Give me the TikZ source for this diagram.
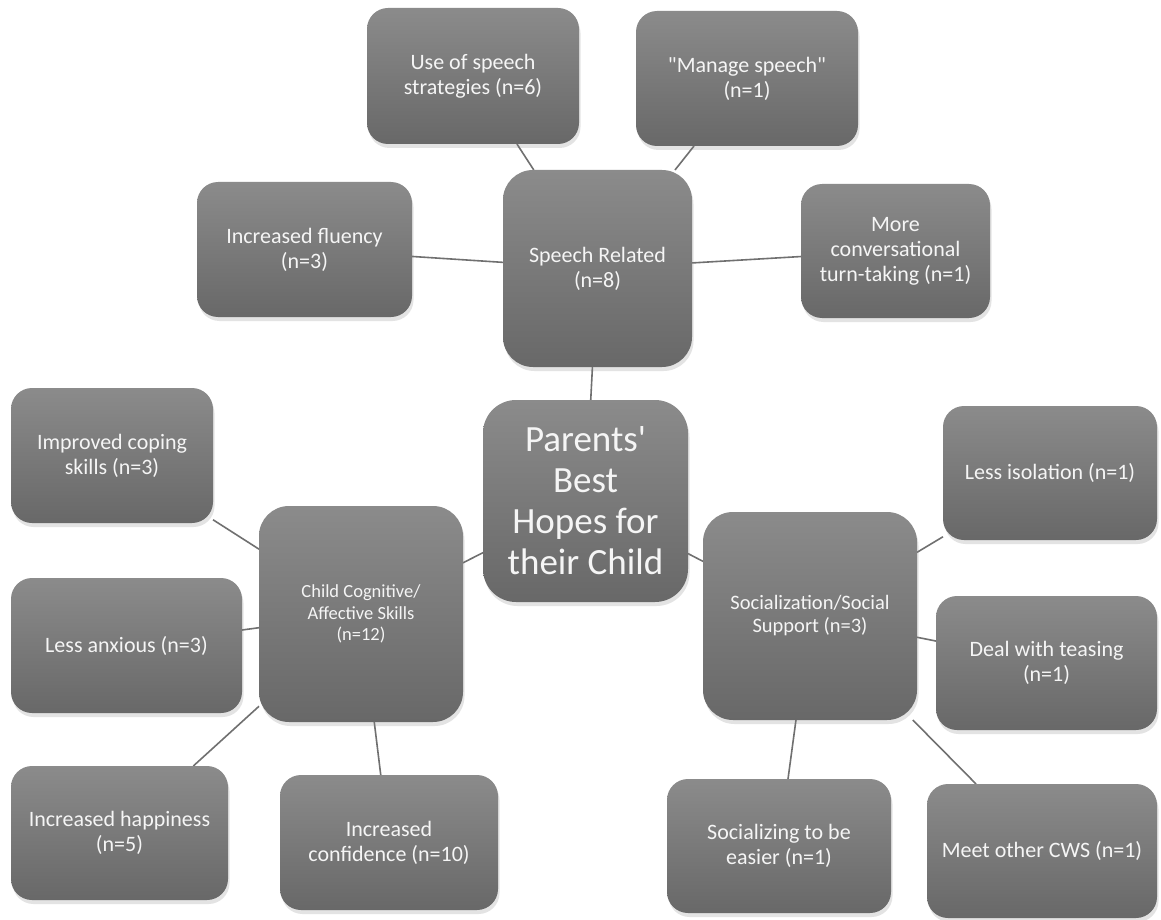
\documentclass[tikz,border=0pt]{standalone}
\usepackage{fontspec}
\setmainfont{Carlito}[Ligatures=TeXOff]
\usetikzlibrary{shadows,backgrounds}
\definecolor{boxtop}{RGB}{139,139,139}
\definecolor{boxbot}{RGB}{104,104,104}
\definecolor{linkc}{RGB}{112,112,112}
\definecolor{txt}{RGB}{245,245,245}
\tikzset{
  box/.style={rectangle, rounded corners=21pt, top color=boxtop, bottom color=boxbot,
    draw=none, outer sep=0pt, inner sep=2pt, align=center, text=txt,
    font=\fontsize{22}{25}\selectfont,
    drop shadow={opacity=0.22, shadow xshift=1.5pt, shadow yshift=-4pt}},
  bigbox/.style={box, rounded corners=30pt},
  link/.style={draw=linkc, line width=1.6pt}
}
\begin{document}
\begin{tikzpicture}[x=1pt,y=-1pt]
\useasboundingbox (0,0) rectangle (1161,920);

\node[box, minimum width=212pt, minimum height=136pt] (use) at (473,76) {Use of speech\\strategies (n=6)};
\node[box, minimum width=222pt, minimum height=135pt] (manage) at (747,78.5) {"Manage speech"\\(n=1)};
\node[box, minimum width=215pt, minimum height=135pt] (fluency) at (304.5,249.5) {Increased fluency\\(n=3)};
\node[bigbox, minimum width=189pt, minimum height=197pt] (speech) at (597.5,268.5) {Speech Related\\(n=8)};
\node[box, minimum width=189pt, minimum height=134pt] (more) at (895.5,251) {More\\conversational\\turn-taking (n=1)};
\node[bigbox, rounded corners=33pt, minimum width=205pt, minimum height=202pt, font=\fontsize{37}{41}\selectfont] (central) at (585.5,501) {Parents'\\Best\\Hopes for\\their Child};
\node[box, minimum width=202pt, minimum height=135pt] (coping) at (112,455.5) {Improved coping\\skills (n=3)};
\node[bigbox, minimum width=204pt, minimum height=216pt, font=\fontsize{18.5}{21.5}\selectfont] (child) at (361,614) {Child Cognitive/\\Affective Skills\\(n=12)};
\node[box, minimum width=231pt, minimum height=135pt] (anxious) at (126.5,645.5) {Less anxious (n=3)};
\node[box, minimum width=217pt, minimum height=134pt] (happy) at (119.5,833) {Increased happiness\\(n=5)};
\node[box, minimum width=218pt, minimum height=135pt] (conf) at (389,842.5) {Increased\\confidence (n=10)};
\node[box, minimum width=214pt, minimum height=134pt] (isol) at (1050,473) {Less isolation (n=1)};
\node[bigbox, minimum width=214pt, minimum height=208pt, font=\fontsize{20.5}{23}\selectfont] (social) at (810,616) {Socialization/Social\\Support (n=3)};
\node[box, minimum width=221pt, minimum height=134pt] (tease) at (1046.5,663) {Deal with teasing\\(n=1)};
\node[box, minimum width=224pt, minimum height=134pt] (easier) at (779,846) {Socializing to be\\easier (n=1)};
\node[box, minimum width=230pt, minimum height=134pt] (meet) at (1042,851) {Meet other CWS (n=1)};

\begin{scope}[on background layer]
\fill[white] (0,0) rectangle (1161,920);
\draw[link] (central) -- (speech);
\draw[link] (central) -- (child);
\draw[link] (central) -- (social);
\draw[link] (speech) -- (use);
\draw[link] (speech) -- (manage);
\draw[link] (speech) -- (fluency);
\draw[link] (speech) -- (more);
\draw[link] (child) -- (coping);
\draw[link] (child) -- (anxious);
\draw[link] (child) -- (happy);
\draw[link] (child) -- (conf);
\draw[link] (social) -- (isol);
\draw[link] (social) -- (tease);
\draw[link] (social) -- (easier);
\draw[link] (social) -- (meet);
\end{scope}
\end{tikzpicture}
\end{document}
